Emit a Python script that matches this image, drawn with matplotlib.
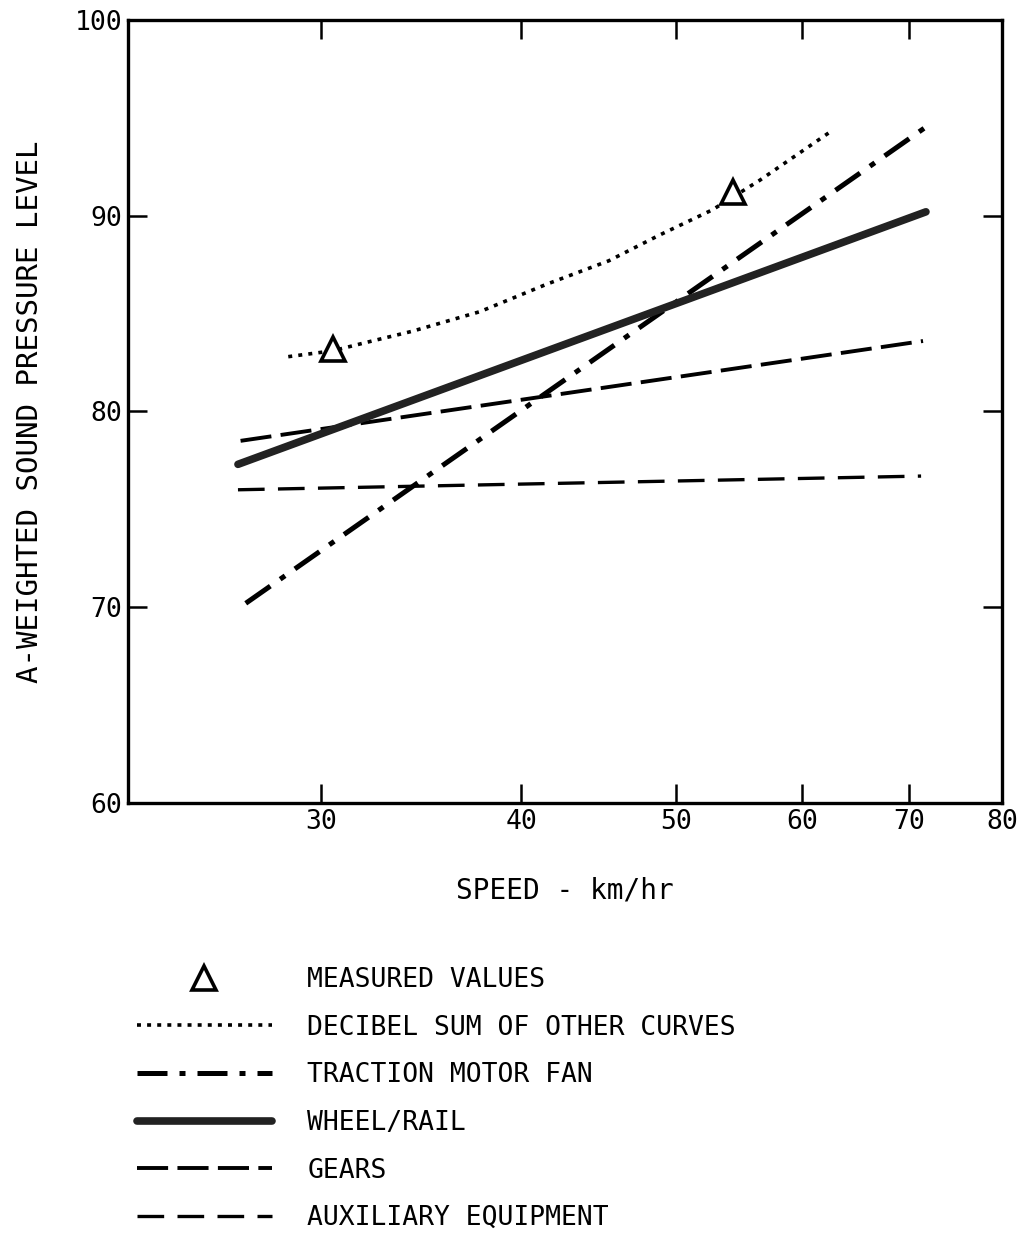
import numpy as np
import matplotlib
matplotlib.use('Agg')
import matplotlib.pyplot as plt
from matplotlib.ticker import FixedLocator, NullLocator, FixedFormatter

# values (speed km/hr, dB(A))
wheel_speed = [26.6, 71.7]
wheel_db = [77.3, 90.2]

fan_speed = [26.9, 71.6]
fan_db = [70.2, 94.5]

gears_speed = [26.7, 71.4]
gears_db = [78.5, 83.6]

aux_speed = [26.6, 71.2]
aux_db = [76.0, 76.7]

sum_speed = [28.6, 30.5, 31.9, 34.2, 37.7, 41.5, 45.4, 48.8, 52.7, 56.4, 62.5]
sum_db = [82.8, 83.1, 83.5, 84.1, 85.1, 86.5, 87.7, 89.0, 90.3, 91.8, 94.3]

measured_speed = [30.5, 54.3]
measured_db = [83.2, 91.2]

x_ticks = [30, 40, 50, 60, 70, 80]
y_ticks = [60, 70, 80, 90, 100]

font = 'DejaVu Sans Mono'
plt.rcParams['font.family'] = font

fig = plt.figure(figsize=(10.27, 12.34), dpi=100)
ax = fig.add_axes([0.1246, 0.3493, 0.851, 0.6345])

sum_line, = ax.plot(sum_speed, sum_db, color='black', lw=2.6,
                    linestyle=(0, (1.1, 1.7)), zorder=3)
fan_line, = ax.plot(fan_speed, fan_db, color='black', lw=3.6,
                    linestyle=(0, (6.0, 2.4, 1.2, 2.4)), zorder=3)
wheel_line, = ax.plot(wheel_speed, wheel_db, color='#222222', lw=5.5,
                      solid_capstyle='round', zorder=4)
gears_line, = ax.plot(gears_speed, gears_db, color='black', lw=2.8,
                      linestyle=(0, (8.0, 2.4)), zorder=3)
aux_line, = ax.plot(aux_speed, aux_db, color='black', lw=2.4,
                    linestyle=(0, (8.0, 4.0)), zorder=3)
meas, = ax.plot(measured_speed, measured_db, linestyle='none', marker='^',
                markersize=17, mfc='white', mec='black', mew=2.6, zorder=5)

ax.set_xscale('log')
ax.set_xlim(22.7, 80)
ax.set_ylim(60, 100)
ax.xaxis.set_major_locator(FixedLocator(x_ticks))
ax.xaxis.set_major_formatter(FixedFormatter([str(t) for t in x_ticks]))
ax.xaxis.set_minor_locator(NullLocator())
ax.set_yticks(y_ticks)

for s in ax.spines.values():
    s.set_linewidth(2.4)
ax.tick_params(which='major', direction='in', length=14, width=1.8,
               top=True, right=True, labelsize=19, pad=4)

ax.set_xlabel('SPEED - km/hr', fontsize=20, labelpad=30)
ax.set_ylabel('A-WEIGHTED SOUND PRESSURE LEVEL', fontsize=21, labelpad=22)

handles = [meas, sum_line, fan_line, wheel_line, gears_line, aux_line]
labels = ['MEASURED VALUES', 'DECIBEL SUM OF OTHER CURVES',
          'TRACTION MOTOR FAN', 'WHEEL/RAIL', 'GEARS', 'AUXILIARY EQUIPMENT']
fig.legend(handles, labels, loc='upper left', bbox_to_anchor=(0.1334, 0.2164),
           frameon=False, borderpad=0, borderaxespad=0, numpoints=1,
           handlelength=5.1, handletextpad=1.36, labelspacing=0.82,
           prop={'family': font, 'size': 19})

fig.savefig('out.png', dpi=100, facecolor='white')
